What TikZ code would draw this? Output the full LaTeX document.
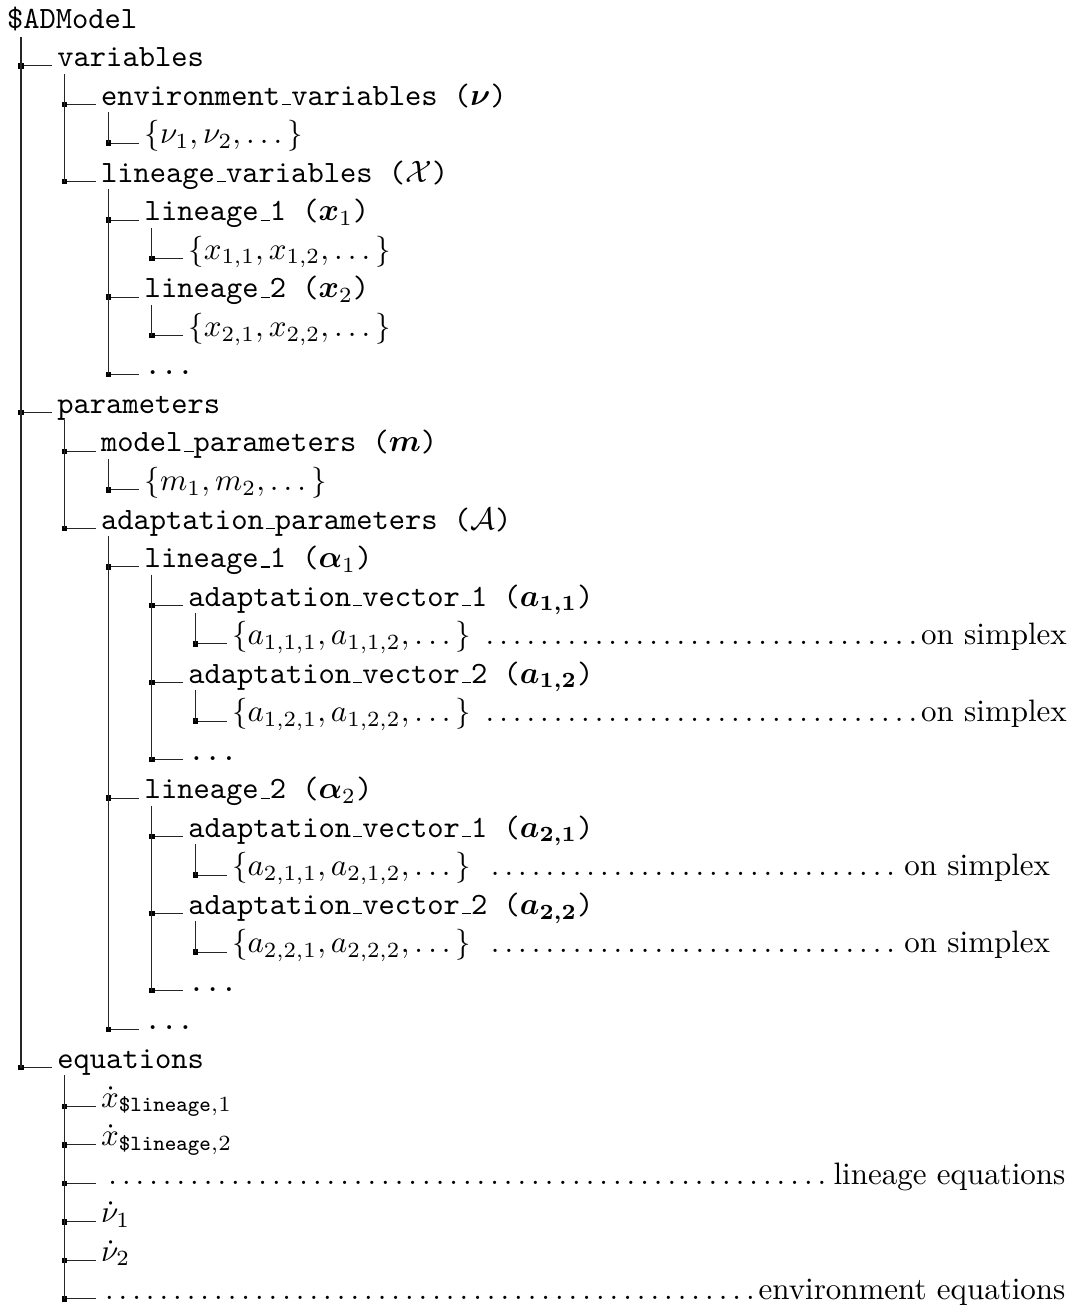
\documentclass[tikz,border=0pt]{standalone}
\usepackage{amsmath}
\tikzset{
  entry/.style={anchor=base west, inner xsep=1.75pt, inner ysep=0pt, outer sep=0pt},
  branch/.style={draw=black!85, line width=0.33pt},
  junction/.style={fill=black},
}
\newcommand\us{\kern.06em\vbox{\hrule width.3em}}
\newcommand\treerow[3]{%
  \pgfmathsetmacro\myby{66.7+38.53*(#1-1)}%
  \pgfmathsetmacro\myvx{21+43.65*(#2-1)}%
  \coordinate (j#1) at (\myvx,\myby-0.7);
  \node[entry] (n#1) at (\myvx+31,\myby) {#3};
  \draw[branch] (j#1) -- (j#1 -| n#1.west);
  \fill[junction] ([shift={(-2.7,-2.7)}]j#1) rectangle ([shift={(2.7,2.7)}]j#1);
}
\newcommand\trunk[3]{%
  \pgfmathsetmacro\myty{66.7+38.53*(#1-1)+7}%
  \pgfmathsetmacro\myvx{21+43.65*(#2-1)}%
  \coordinate (t#1) at (\myvx,\myty);
  \draw[branch] (t#1) -- (j#3);
}
\begin{document}
\begin{tikzpicture}[x=0.3226pt,y=-0.3226pt]
\useasboundingbox (0,0) rectangle (1073,1307);
\node[entry] (n0) at (1.6,28.2) {\texttt{\$ADModel}};
\treerow{1}{1}{\texttt{variables}}
\treerow{2}{2}{\texttt{environment\us variables ($\boldsymbol{\nu}$)}}
\treerow{3}{3}{$\{\nu_1,\nu_2,\dots\}$}
\treerow{4}{2}{\texttt{lineage\us variables ($\mathcal{X}$)}}
\treerow{5}{3}{\texttt{lineage\us 1 ($\boldsymbol{x}_1$)}}
\treerow{6}{4}{$\{x_{1,1},x_{1,2},\dots\}$}
\treerow{7}{3}{\texttt{lineage\us 2 ($\boldsymbol{x}_2$)}}
\treerow{8}{4}{$\{x_{2,1},x_{2,2},\dots\}$}
\treerow{9}{3}{\texttt{...}}
\treerow{10}{1}{\texttt{parameters}}
\treerow{11}{2}{\texttt{model\us parameters ($\boldsymbol{m}$)}}
\treerow{12}{3}{$\{m_1,m_2,\dots\}$}
\treerow{13}{2}{\texttt{adaptation\us parameters ($\mathcal{A}$)}}
\treerow{14}{3}{\texttt{lineage\us 1 ($\boldsymbol{\alpha}_1$)}}
\treerow{15}{4}{\texttt{adaptation\us vector\us 1 ($\boldsymbol{a_{1,1}}$)}}
\treerow{16}{5}{\hbox to 269.3pt{$\{a_{1,1,1},a_{1,1,2},\dots\}$\ \dotfill on simplex}}
\treerow{17}{4}{\texttt{adaptation\us vector\us 2 ($\boldsymbol{a_{1,2}}$)}}
\treerow{18}{5}{\hbox to 269.3pt{$\{a_{1,2,1},a_{1,2,2},\dots\}$\ \dotfill on simplex}}
\treerow{19}{4}{\texttt{...}}
\treerow{20}{3}{\texttt{lineage\us 2 ($\boldsymbol{\alpha}_2$)}}
\treerow{21}{4}{\texttt{adaptation\us vector\us 1 ($\boldsymbol{a_{2,1}}$)}}
\treerow{22}{5}{\hbox to 263.9pt{$\{a_{2,1,1},a_{2,1,2},\dots\}$\ \dotfill on simplex}}
\treerow{23}{4}{\texttt{adaptation\us vector\us 2 ($\boldsymbol{a_{2,2}}$)}}
\treerow{24}{5}{\hbox to 263.9pt{$\{a_{2,2,1},a_{2,2,2},\dots\}$\ \dotfill on simplex}}
\treerow{25}{4}{\texttt{...}}
\treerow{26}{3}{\texttt{...}}
\treerow{27}{1}{\texttt{equations}}
\treerow{28}{2}{$\dot{x}_{\texttt{\$lineage},1}$}
\treerow{29}{2}{$\dot{x}_{\texttt{\$lineage},2}$}
\treerow{30}{2}{\hbox to 311.1pt{\dotfill lineage equations}}
\treerow{31}{2}{$\dot{\nu}_1$}
\treerow{32}{2}{$\dot{\nu}_2$}
\treerow{33}{2}{\hbox to 311.1pt{\dotfill environment equations}}
\coordinate (t0) at (21,36.7);
\draw[branch] (t0) -- (j27);
\trunk{1}{2}{4}
\trunk{2}{3}{3}
\trunk{4}{3}{9}
\trunk{5}{4}{6}
\trunk{7}{4}{8}
\trunk{10}{2}{13}
\trunk{11}{3}{12}
\trunk{13}{3}{26}
\trunk{14}{4}{19}
\trunk{15}{5}{16}
\trunk{17}{5}{18}
\trunk{20}{4}{25}
\trunk{21}{5}{22}
\trunk{23}{5}{24}
\trunk{27}{2}{33}
\end{tikzpicture}
\end{document}
